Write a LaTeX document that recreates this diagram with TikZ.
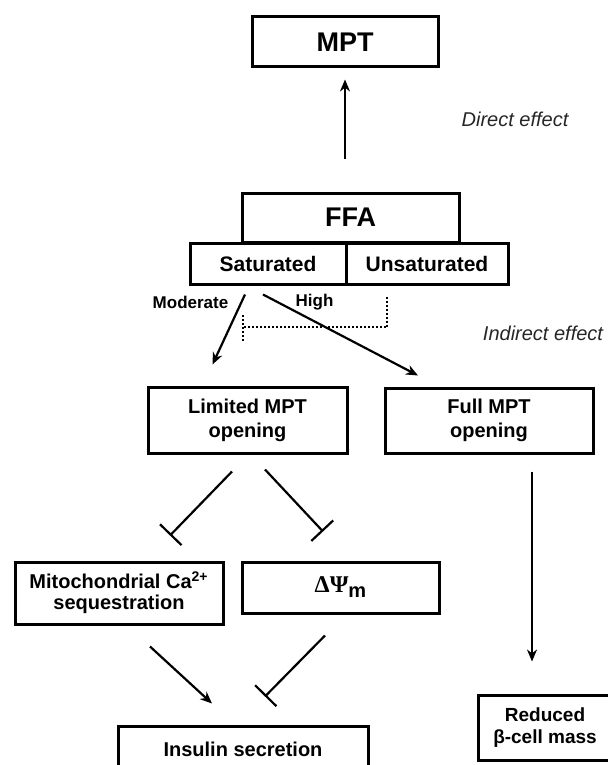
\documentclass[tikz,border=0pt]{standalone}
\usepackage{fontspec}
\setmainfont{Liberation Sans}
\newfontfamily\greekserif{Liberation Serif}
\usetikzlibrary{arrows.meta}

\begin{document}
\begin{tikzpicture}[x=0.5pt, y=-0.5pt,
  box/.style={draw, line width=1.5pt, align=center, inner sep=0pt,
    font=\bfseries\fontsize{10}{12}\selectfont},
  arr/.style={-{Stealth[length=6pt, width=5pt]}, line width=1.1pt},
  inh/.style={-{Bar[width=15pt]}, line width=1.1pt},
  dots/.style={line width=1pt, dash pattern=on 1pt off 1pt},
  lbl/.style={font=\bfseries\fontsize{8.5}{10}\selectfont},
  eff/.style={font=\itshape\fontsize{10}{12}\selectfont, text=black!85}]
% Page size
\useasboundingbox (0,0) rectangle (608,765);

% Top boxes
\node[box, minimum width=93pt, minimum height=25pt, font=\bfseries\fontsize{13.5}{15}\selectfont] (mpt) at (345,42) {MPT};
\node[box, minimum width=108.5pt, minimum height=24.5pt, font=\bfseries\fontsize{13.5}{15}\selectfont] (ffa) at (350.5,217.5) {FFA};
\node[box, minimum width=78pt, minimum height=20.5pt, font=\bfseries\fontsize{10.5}{12}\selectfont] (sat) at (268,263.5) {Saturated};
\node[box, minimum width=81pt, minimum height=20.5pt, font=\bfseries\fontsize{10.5}{12}\selectfont] (unsat) at (427,263.5) {Unsaturated};

% Effect labels
\node[eff] (direct) at (515,119) {Direct effect};
\node[eff] (indirect) at (543,333) {Indirect effect};

% Opening boxes
\node[box, minimum width=99.5pt, minimum height=33pt] (limited) at (247.5,420) {Limited MPT\\opening};
\node[box, minimum width=104pt, minimum height=32.5pt] (full) at (489,420.5) {Full MPT\\opening};

% Lower boxes
\node[box, minimum width=104pt, minimum height=31pt, font=\bfseries\fontsize{10}{10.5}\selectfont] (mito) at (119,593) {Mitochondrial Ca\textsuperscript{2+}\\sequestration};
\node[box, minimum width=98.5pt, minimum height=25.5pt] (dpsi) at (340.5,587.5) {{\greekserif\fontsize{12}{12}\selectfont ΔΨ}\raisebox{-2.5pt}{m}};
\node[box, minimum width=125pt, minimum height=23pt] (insulin) at (243,749) {Insulin secretion};
\node[box, minimum width=67pt, minimum height=32.5pt, font=\bfseries\fontsize{9.5}{11}\selectfont] (reduced) at (545,727.5) {Reduced\\β-cell mass};

% Direct effect
\draw[arr, shorten <=16.5pt, shorten >=5.5pt] (mpt.south |- ffa.north) -- (mpt.south);

% Moderate / high
\node[lbl] (moderate) at (190.5,302) {Moderate};
\node[lbl] (high) at (314.5,302) {High};
\draw[arr] ([shift={(-23,9)}]sat.south) -- ([shift={(-35,-21)}]limited.north);
\draw[arr] ([shift={(-5,9)}]sat.south) -- ([shift={(-71,-11)}]full.north);

% Unsaturated blocks
\coordinate (blk) at (243,327);
\draw[dots] ([shift={(-40,11)}]unsat.south) |- (blk);
\draw[dots] ([shift={(0,-12)}]blk) -- ([shift={(0,16)}]blk);

% Limited opening
\draw[inh] ([shift={(-15.5,17)}]limited.south) -- ([shift={(51,-25)}]mito.north);
\draw[inh] ([shift={(17.5,15)}]limited.south) -- ([shift={(-17.5,-29)}]dpsi.north);

% Insulin secretion
\draw[arr] ([shift={(31,21)}]mito.south) -- ([shift={(-31,-21)}]insulin.north);
\draw[inh] ([shift={(-15.5,21)}]dpsi.south) -- ([shift={(22,-28)}]insulin.north);

% Full opening
\draw[arr] ([shift={(43,17)}]full.south) -- ([shift={(-13,-32)}]reduced.north);

\end{tikzpicture}
\end{document}
